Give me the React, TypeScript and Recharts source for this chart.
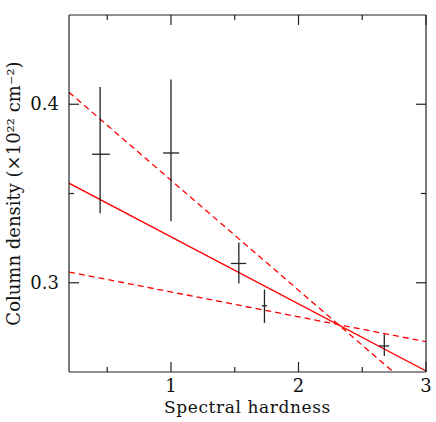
import React from 'react';
import { ComposedChart, XAxis, YAxis, Line, Scatter, ErrorBar } from 'recharts';

// Measurements (Spectral hardness vs column density)
const hardness = [0.444, 1.0, 1.532, 1.733, 2.673];
const density = [0.372, 0.3727, 0.3108, 0.2871, 0.2646];
const hardnessErrLo = [0.064, 0.062, 0.062, 0.02, 0.042];
const hardnessErrHi = [0.076, 0.064, 0.058, 0.02, 0.038];
const densityErrLo = [0.033, 0.0383, 0.0112, 0.0096, 0.0056];
const densityErrHi = [0.0377, 0.0412, 0.0118, 0.0091, 0.0066];

// Fit lines (endpoints)
const fitX = [0.2, 3.0];
const fitY = [0.3558, 0.2506];
const upperX = [0.2, 2.744];
const upperY = [0.4067, 0.25];
const lowerX = [0.2, 3.0];
const lowerY = [0.306, 0.267];

// Axis ticks
const xMajorTicks = [1, 2, 3];
const xMinorTicks = [0.5, 1.5, 2.5];
const yMajorTicks = [0.3, 0.4];
const yMinorTicks = [0.35];

const points = hardness.map((h, i) => ({
  x: h,
  y: density[i],
  ex: [hardnessErrLo[i], hardnessErrHi[i]],
  ey: [densityErrLo[i], densityErrHi[i]],
}));
const fitData = fitX.map((x, i) => ({ x, y: fitY[i] }));
const upperData = upperX.map((x, i) => ({ x, y: upperY[i] }));
const lowerData = lowerX.map((x, i) => ({ x, y: lowerY[i] }));

const FONT = '"DejaVu Serif", serif';
const FS = 17;
const AXIS = '#222';

const makeTick = (side: string, labelled: boolean, majors: number[]) => (props: any) => {
  const { x, y, payload } = props;
  const v = payload.value;
  const major = majors.includes(v);
  const len = major ? 10 : 5;
  let x2 = x, y2 = y;
  if (side === 'bottom') y2 = y - len;
  if (side === 'top') y2 = y + len;
  if (side === 'left') x2 = x + len;
  if (side === 'right') x2 = x - len;
  let label = null;
  if (labelled && major) {
    const txt = String(v);
    if (side === 'bottom') {
      label = (
        <text x={x} y={y + 20} textAnchor="middle" fontFamily={FONT} fontSize={FS + 1} fill="#111">
          {txt}
        </text>
      );
    } else if (side === 'left') {
      label = (
        <text x={x - 10} y={y + 6} textAnchor="end" fontFamily={FONT} fontSize={FS + 1} fill="#111">
          {v.toFixed(1)}
        </text>
      );
    }
  }
  return (
    <g>
      <line x1={x} y1={y} x2={x2} y2={y2} stroke={AXIS} strokeWidth={1.2} />
      {label}
    </g>
  );
};

const YLabel = (props: any) => {
  const vb = props.viewBox || { x: 0, y: 15, width: 69, height: 357 };
  const cy = vb.y + vb.height / 2;
  return (
    <text
      transform={`translate(20,${cy}) rotate(-90)`}
      textAnchor="middle"
      fontFamily={FONT}
      fontSize={18}
      fill="#111"
    >
      Column density (×10²² cm⁻²)
    </text>
  );
};

const XLabel = (props: any) => {
  const vb = props.viewBox || { x: 69, y: 372, width: 357, height: 50 };
  const cx = vb.x + vb.width / 2;
  return (
    <text
      x={cx}
      y={413}
      textAnchor="middle"
      fontFamily={FONT}
      fontSize={FS}
      letterSpacing={0.6}
      fill="#111"
    >
      Spectral hardness
    </text>
  );
};

const noShape = () => <g />;

export default function App() {
  const xTicks = [...xMinorTicks, ...xMajorTicks].sort((a, b) => a - b);
  const yTicks = [...yMinorTicks, ...yMajorTicks].sort((a, b) => a - b);
  return (
    <div style={{ position: 'absolute', left: 0, top: 0, background: '#fff' }}>
      <ComposedChart
        width={436}
        height={422}
        margin={{ top: 14, right: 9, bottom: 0, left: 0 }}
      >
        <XAxis
          xAxisId="b"
          dataKey="x"
          type="number"
          domain={[0.2, 3]}
          ticks={xTicks}
          orientation="bottom"
          height={50}
          tickSize={0}
          tickMargin={0}
          tickLine={false}
          interval={0}
          stroke={AXIS}
          strokeWidth={1.2}
          allowDataOverflow
          tick={makeTick('bottom', true, xMajorTicks)}
          label={<XLabel />}
        />
        <XAxis
          xAxisId="t"
          dataKey="x"
          type="number"
          domain={[0.2, 3]}
          ticks={xTicks}
          orientation="top"
          height={1}
          tickSize={0}
          tickMargin={0}
          tickLine={false}
          interval={0}
          stroke={AXIS}
          strokeWidth={1.2}
          allowDataOverflow
          tick={makeTick('top', false, xMajorTicks)}
        />
        <YAxis
          yAxisId="l"
          type="number"
          domain={[0.25, 0.45]}
          ticks={yTicks}
          orientation="left"
          width={69}
          tickSize={0}
          tickMargin={0}
          tickLine={false}
          interval={0}
          stroke={AXIS}
          strokeWidth={1.2}
          allowDataOverflow
          tick={makeTick('left', true, yMajorTicks)}
          label={<YLabel />}
        />
        <YAxis
          yAxisId="r"
          type="number"
          domain={[0.25, 0.45]}
          ticks={yTicks}
          orientation="right"
          width={1}
          tickSize={0}
          tickMargin={0}
          tickLine={false}
          interval={0}
          stroke={AXIS}
          strokeWidth={1.2}
          allowDataOverflow
          tick={makeTick('right', false, yMajorTicks)}
        />
        <Line
          xAxisId="b"
          yAxisId="l"
          data={fitData}
          dataKey="y"
          type="linear"
          stroke="#ff0000"
          strokeWidth={1.3}
          dot={false}
          activeDot={false}
          isAnimationActive={false}
        />
        <Line
          xAxisId="b"
          yAxisId="l"
          data={upperData}
          dataKey="y"
          type="linear"
          stroke="#ff0000"
          strokeWidth={1.3}
          strokeDasharray="6 4"
          dot={false}
          activeDot={false}
          isAnimationActive={false}
        />
        <Line
          xAxisId="b"
          yAxisId="l"
          data={lowerData}
          dataKey="y"
          type="linear"
          stroke="#ff0000"
          strokeWidth={1.3}
          strokeDasharray="6 4"
          dot={false}
          activeDot={false}
          isAnimationActive={false}
        />
        <Scatter
          xAxisId="b"
          yAxisId="l"
          data={points}
          dataKey="y"
          shape={noShape}
          isAnimationActive={false}
        >
          <ErrorBar dataKey="ey" direction="y" width={0} stroke="#222" strokeWidth={1.3} isAnimationActive={false} />
          <ErrorBar dataKey="ex" direction="x" width={0} stroke="#222" strokeWidth={1.3} isAnimationActive={false} />
        </Scatter>
      </ComposedChart>
    </div>
  );
}
